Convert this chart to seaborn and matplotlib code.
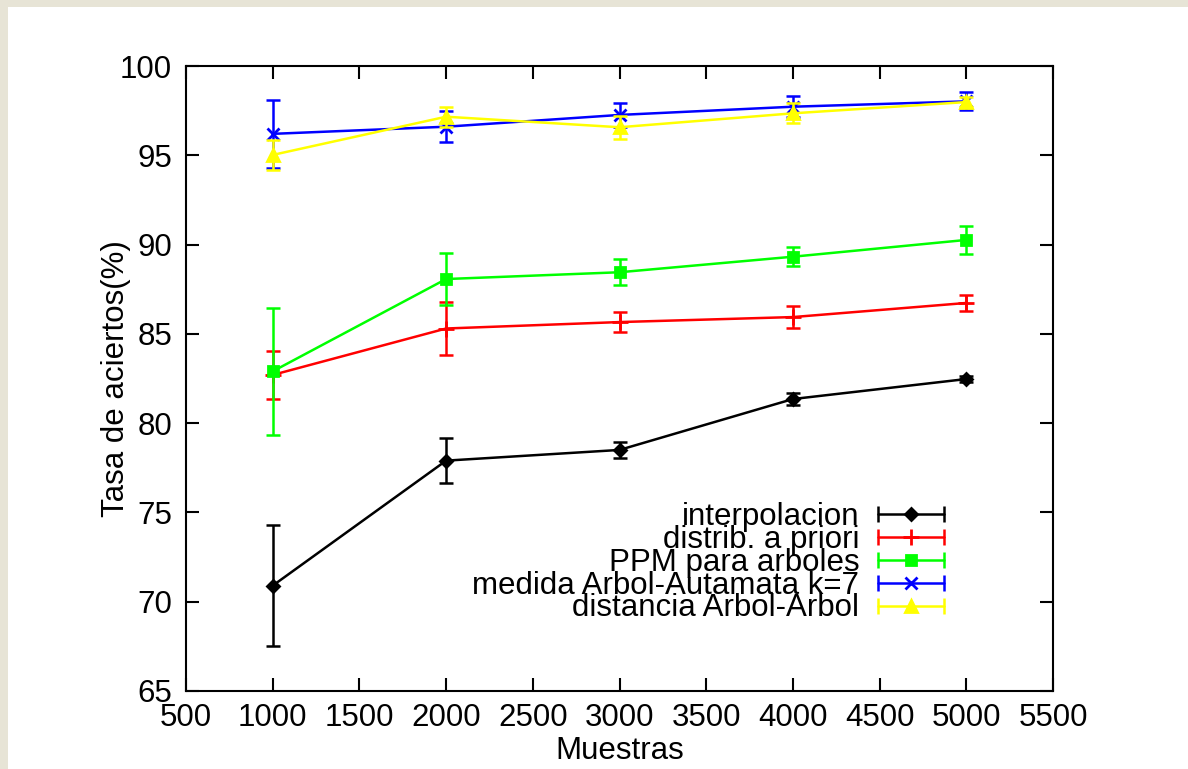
import matplotlib
matplotlib.use("Agg")
import matplotlib.pyplot as plt
import seaborn as sns
import numpy as np
from matplotlib.legend_handler import HandlerBase
from matplotlib.lines import Line2D
from matplotlib.patches import Rectangle

# datos
muestras = [1000, 2000, 3000, 4000, 5000]

interpolacion = [70.9, 77.9, 78.5, 81.35, 82.47]
interpolacion_err = [3.4, 1.25, 0.47, 0.33, 0.15]

distrib = [82.7, 85.3, 85.66, 85.94, 86.73]
distrib_err = [1.35, 1.5, 0.55, 0.6, 0.45]

ppm = [82.9, 88.07, 88.45, 89.32, 90.26]
ppm_err = [3.55, 1.45, 0.72, 0.53, 0.78]

automata = [96.2, 96.6, 97.26, 97.72, 98.02]
automata_err = [1.9, 0.87, 0.65, 0.6, 0.5]

arbol = [95.02, 97.16, 96.57, 97.35, 97.98]
arbol_err = [0.84, 0.55, 0.65, 0.56, 0.3]

series = [
    ("interpolacion", interpolacion, interpolacion_err, "black", "D", 6),
    ("distrib. a priori", distrib, distrib_err, "#ff0000", "+", 12),
    ("PPM para arboles", ppm, ppm_err, "#00ff00", "s", 6.5),
    ("medida Arbol-Autamata k=7", automata, automata_err, "#0000ff", "x", 8),
    ("distancia Arbol-Arbol", arbol, arbol_err, "#ffff00", "^", 8),
]


class ErrorbarKeyHandler(HandlerBase):
    """Muestra de leyenda estilo gnuplot: linea con topes y marcador al centro."""

    def create_artists(self, legend, orig_handle, xdescent, ydescent,
                       width, height, fontsize, trans):
        color, marker, ms = orig_handle
        y = height / 2 - ydescent
        x0, x1 = -xdescent, width - xdescent
        base = Line2D([x0, x1], [y, y], color=color, lw=1.8, transform=trans)
        caps = Line2D([x0, x1], [y, y], ls="none", marker="|", ms=11,
                      mew=1.8, color=color, transform=trans)
        mid = Line2D([(x0 + x1) / 2], [y], ls="none", marker=marker, ms=ms,
                     color=color, mec=color, mew=2, transform=trans)
        return [base, caps, mid]


sns.set_style("ticks")
plt.rcParams["font.family"] = ["Liberation Sans", "DejaVu Sans"]
plt.rcParams["text.color"] = "black"
plt.rcParams["axes.labelcolor"] = "black"

fig = plt.figure(figsize=(11.88, 7.69), dpi=100)
fig.patch.set_facecolor("#e7e4d6")
# panel blanco sobre el fondo beige
fig.patches.append(Rectangle((8 / 1188, 0), 1, 762 / 769, transform=fig.transFigure,
                             facecolor="white", edgecolor="none", zorder=-5))
ax = fig.add_axes([186 / 1188, 78 / 769, 867 / 1188, 625 / 769])
ax.set_zorder(1)
ax.set_facecolor("white")

for name, vals, errs, color, marker, ms in series:
    ax.errorbar(muestras, vals, yerr=errs, fmt="none", ecolor=color,
                elinewidth=1.8, capsize=5, capthick=1.8)
    sns.lineplot(x=muestras, y=vals, ax=ax, color=color, marker=marker,
                 markersize=ms, markeredgecolor=color, markeredgewidth=2,
                 linewidth=1.8)

ax.set_xlim(500, 5500)
ax.set_ylim(65, 100)
ax.set_xticks(np.arange(500, 5501, 500))
ax.set_yticks(np.arange(65, 101, 5))

for side in ["top", "right", "left", "bottom"]:
    ax.spines[side].set_visible(True)
    ax.spines[side].set_linewidth(1.5)
    ax.spines[side].set_color("black")
ax.tick_params(direction="in", length=9.5, width=1.5, top=True, right=True,
               labelsize=22.5, colors="black")
ax.tick_params(axis="x", pad=9)
ax.tick_params(axis="y", pad=10)

ax.set_xlabel("Muestras", fontsize=22.5, color="black", labelpad=2)
ax.set_ylabel("Tasa de aciertos(%)", fontsize=22.5, color="black")
ax.yaxis.set_label_coords(-0.0635, 0.5)

handles = [(c, m, s) for _, _, _, c, m, s in series]
labels = [n for n, *_ in series]
ax.legend(handles, labels, handler_map={tuple: ErrorbarKeyHandler()},
          loc="center right", bbox_to_anchor=(0.874, 0.205), frameon=False,
          markerfirst=False, fontsize=22.5, handlelength=2.1,
          handletextpad=0.6, labelspacing=-0.23, borderpad=0, borderaxespad=0)

fig.savefig("out.png", dpi=100, facecolor=fig.get_facecolor())
